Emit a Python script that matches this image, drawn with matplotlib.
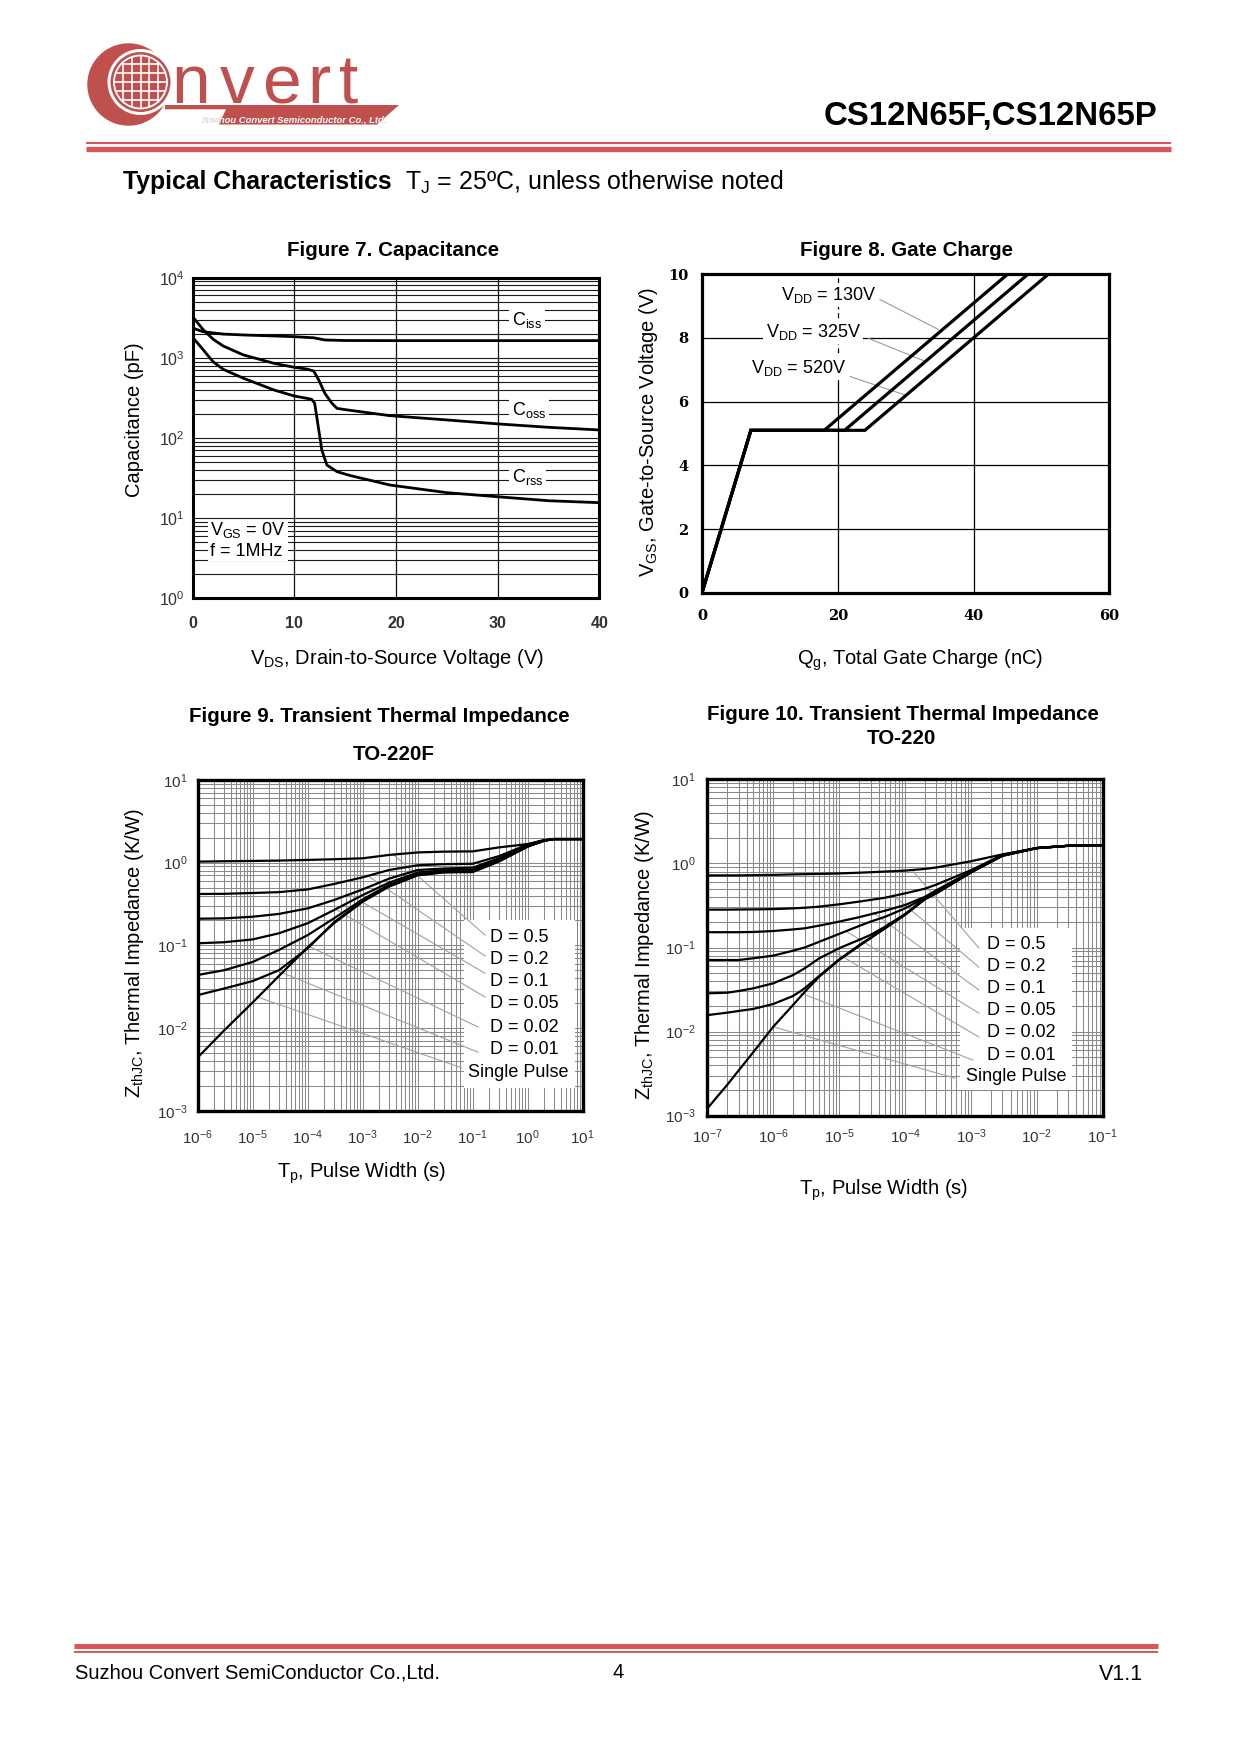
import numpy as np
import matplotlib
matplotlib.use('Agg')
import matplotlib.pyplot as plt
from matplotlib.patches import Circle, Polygon, Rectangle
from matplotlib.ticker import LogLocator, NullFormatter

plt.rcParams['font.family'] = ['Liberation Sans', 'DejaVu Sans']
plt.rcParams['mathtext.fontset'] = 'custom'
plt.rcParams['mathtext.rm'] = 'Liberation Sans'
plt.rcParams['mathtext.it'] = 'Liberation Sans:italic'
plt.rcParams['mathtext.bf'] = 'Liberation Sans:bold'

# ---------------- data ----------------
# Figure 7 capacitance
ciss_v = [0, 1, 3, 5, 8, 10, 11.9, 13.0, 15, 20, 30, 40]
ciss = [2355, 2120, 1980, 1930, 1875, 1836, 1780, 1671, 1645, 1640, 1640, 1640]
coss_v = [0, 1.05, 2.03, 3, 5, 8, 10, 11.2, 11.9, 12.4, 13.0, 13.7, 14.2, 15.2, 19.4, 25, 30, 35, 40]
coss = [3260, 2230, 1700, 1406, 1086, 855, 762, 726, 686, 530, 361, 271, 234, 224, 190, 168, 150, 136, 126]
crss_v = [0, 1.05, 2, 3, 5, 8, 10, 11.2, 11.7, 12.0, 12.4, 12.7, 13.2, 14.2, 15.5, 19.4, 25, 30, 35, 40]
crss = [1800, 1254, 895, 720, 556, 397, 334, 313, 304, 271, 126, 71, 46, 38, 34, 25.9, 20.8, 18.5, 16.5, 15.6]

# Figure 8 gate charge
qg_130 = [0, 7.2, 18, 45]
qg_325 = [0, 7.2, 21, 48]
qg_520 = [0, 7.2, 24, 51]
vgs_pts = [0, 5.1, 5.1, 10]
g8_labels = ['130V', '325V', '520V']
g8_label_x = [18.7, 16.4, 14.3]
g8_label_y = [9.35, 8.2, 7.05]
g8_lead_x0 = [26.2, 24.5, 21.8]
g8_lead_y0 = [9.21, 7.99, 6.79]
g8_lead_x1 = [34.8, 32.6, 29.9]
g8_lead_y1 = [8.27, 7.29, 6.21]

# Figure 9 thermal impedance TO-220F
t9 = [1e-6, 3e-6, 1e-5, 3e-5, 1e-4, 3e-4, 1e-3, 3e-3, 1e-2, 3e-2, 1e-1, 3e-1, 1, 2, 3, 10]
z9_d05 = [1.03, 1.04, 1.05, 1.06, 1.08, 1.10, 1.13, 1.24, 1.33, 1.36, 1.37, 1.53, 1.68, 1.88, 1.93, 1.93]
z9_d02 = [0.418, 0.42, 0.43, 0.44, 0.475, 0.552, 0.665, 0.815, 0.93, 0.96, 0.97, 1.20, 1.66, 1.87, 1.93, 1.93]
z9_d01 = [0.21, 0.212, 0.222, 0.24, 0.28, 0.353, 0.475, 0.64, 0.815, 0.85, 0.87, 1.13, 1.62, 1.86, 1.93, 1.93]
z9_d005 = [0.106, 0.109, 0.118, 0.14, 0.185, 0.267, 0.406, 0.573, 0.76, 0.81, 0.82, 1.08, 1.60, 1.85, 1.93, 1.93]
z9_d002 = [0.0438, 0.050, 0.063, 0.088, 0.133, 0.212, 0.36, 0.54, 0.72, 0.78, 0.79, 1.06, 1.58, 1.85, 1.93, 1.93]
z9_d001 = [0.025, 0.030, 0.037, 0.050, 0.092, 0.19, 0.345, 0.52, 0.71, 0.77, 0.78, 1.05, 1.58, 1.84, 1.93, 1.93]
z9_sp = [0.0044, 0.0093, 0.0204, 0.0426, 0.0946, 0.185, 0.337, 0.513, 0.703, 0.762, 0.77, 1.03, 1.56, 1.84, 1.93, 1.93]

# Figure 10 thermal impedance TO-220
t10 = [1e-7, 2e-7, 3e-7, 5e-7, 1e-6, 2e-6, 3e-6, 5e-6, 1e-5, 2e-5, 3e-5, 5e-5,
       1e-4, 2e-4, 3e-4, 1e-3, 3e-3, 1e-2, 3e-2, 1e-1]
z10_d05 = [0.72, 0.72, 0.72, 0.725, 0.73, 0.74, 0.745, 0.75, 0.76, 0.775, 0.785, 0.80,
           0.82, 0.86, 0.895, 1.06, 1.28, 1.52, 1.62, 1.65]
z10_d02 = [0.282, 0.282, 0.283, 0.284, 0.286, 0.292, 0.297, 0.306, 0.326, 0.351, 0.368, 0.391,
           0.44, 0.50, 0.56, 0.83, 1.26, 1.53, 1.62, 1.65]
z10_d01 = [0.152, 0.152, 0.152, 0.153, 0.157, 0.164, 0.169, 0.182, 0.203, 0.229, 0.248, 0.274,
           0.32, 0.40, 0.48, 0.80, 1.25, 1.52, 1.62, 1.65]
z10_d005 = [0.071, 0.071, 0.071, 0.0745, 0.080, 0.0917, 0.100, 0.117, 0.145, 0.180, 0.203, 0.232,
            0.292, 0.385, 0.46, 0.79, 1.24, 1.52, 1.62, 1.65]
z10_d002 = [0.0285, 0.029, 0.0304, 0.0327, 0.0375, 0.047, 0.0565, 0.0744, 0.098, 0.123, 0.141, 0.177,
            0.25, 0.378, 0.45, 0.785, 1.24, 1.52, 1.62, 1.65]
z10_d001 = [0.0157, 0.0168, 0.0176, 0.0186, 0.0213, 0.0265, 0.0327, 0.046, 0.072, 0.106, 0.131, 0.171,
            0.246, 0.376, 0.445, 0.78, 1.23, 1.52, 1.62, 1.65]
z10_sp = [0.00122, 0.00232, 0.00346, 0.00571, 0.0114, 0.0207, 0.0296, 0.045, 0.071, 0.104, 0.129, 0.169,
          0.244, 0.374, 0.44, 0.78, 1.23, 1.52, 1.62, 1.65]

d_labels = ['D = 0.5', 'D = 0.2', 'D = 0.1', 'D = 0.05', 'D = 0.02', 'D = 0.01', 'Single Pulse']

lead9_x0 = [3.6e-3, 1.18e-3, 5.9e-4, 3.4e-4, 1.1e-4, 3.1e-5, 1.18e-5]
lead9_y0 = [1.26, 0.71, 0.406, 0.267, 0.096, 0.048, 0.0239]
lead9_x1 = [0.168, 0.168, 0.168, 0.168, 0.125, 0.125, 0.063]
lead9_y1 = [0.133, 0.0743, 0.046, 0.0237, 0.0103, 0.0051, 0.0033]

lead10_x0 = [1.34e-4, 6.6e-5, 3.3e-5, 1.3e-5, 8.2e-6, 2.27e-6, 1e-6]
lead10_y0 = [0.80, 0.42, 0.26, 0.155, 0.09, 0.03, 0.0114]
lead10_x1 = [1.32e-3, 1.32e-3, 1.32e-3, 1.32e-3, 1.32e-3, 1.07e-3, 5.7e-4]
lead10_y1 = [0.0986, 0.0586, 0.0313, 0.0166, 0.00863, 0.00459, 0.0028]

# ---------------- figure ----------------
W, H = 1240, 1754
fig = plt.figure(figsize=(W / 100, H / 100), dpi=100)

bg = fig.add_axes([0, 0, 1, 1])
bg.set_xlim(0, W)
bg.set_ylim(H, 0)
bg.axis('off')


def axes_px(l, t, r, b):
    return fig.add_axes([l / W, 1 - b / H, (r - l) / W, (b - t) / H])


RED = '#D9575B'
LOGO = '#C0504D'
TICKC = '#333333'

# ---- header / logo ----
bg.add_patch(Circle((128.5, 84.5), 41.2, color=LOGO, lw=0))
bg.add_patch(Circle((140.5, 82), 33, color='white', lw=0))
bg.add_patch(Circle((140.5, 82), 30, color=LOGO, lw=0))
bg.add_patch(Circle((140.5, 82), 26.5, fc='none', ec='white', lw=1.3))
clipc = Circle((140.5, 82), 26.5, transform=bg.transData)
for gx in np.arange(140.5 - 4 * 8.7, 140.5 + 4.5 * 8.7, 8.7):
    ln, = bg.plot([gx, gx], [40, 125], color='white', lw=1.2)
    ln.set_clip_path(clipc)
for gy in np.arange(82 - 4 * 9, 82 + 4.5 * 9, 9):
    ln, = bg.plot([95, 190], [gy, gy], color='white', lw=1.2)
    ln.set_clip_path(clipc)

for ch, xx in zip('nvert', [171, 220, 263, 307, 339]):
    bg.text(xx, 103, ch, fontsize=50, color=LOGO, ha='left', va='baseline')

bar = Polygon([(165, 105), (399, 105), (377, 124.5), (219, 124.5), (226, 109.3), (165, 109.3)],
              closed=True, color=LOGO, lw=0)
bg.add_patch(bar)
sub_txt = 'Suzhou Convert Semiconductor Co., Ltd.'
bg.text(202, 119.5, sub_txt, fontsize=6.8, fontweight='bold', fontstyle='italic', color=LOGO,
        ha='left', va='center')
tw = bg.text(202, 119.5, sub_txt, fontsize=6.8, fontweight='bold', fontstyle='italic', color='white',
             ha='left', va='center')
tw.set_clip_path(bar)

bg.text(1157, 117, 'CS12N65F,CS12N65P', fontsize=23.8, fontweight='bold', ha='right', va='center')
bg.plot([86, 1171], [142.7, 142.7], color=RED, lw=1.5, solid_capstyle='butt')
bg.plot([86, 1171], [148.7, 148.7], color=RED, lw=3.8, solid_capstyle='butt')

bg.text(123, 182, 'Typical Characteristics', fontsize=17.8, fontweight='bold', ha='left', va='center')
bg.text(405, 182, r'T$_{\mathregular{J}}$ = 25ºC, unless otherwise noted', fontsize=18, ha='left', va='center')

# ---- footer ----
bg.plot([74, 1158], [1646, 1646], color=RED, lw=3.6, solid_capstyle='butt')
bg.plot([74, 1158], [1652, 1652], color=RED, lw=1.4, solid_capstyle='butt')
bg.text(75, 1673, 'Suzhou Convert SemiConductor Co.,Ltd.', fontsize=14.5, ha='left', va='center')
bg.text(618, 1673, '4', fontsize=14.5, ha='center', va='center')
bg.text(1143, 1674, 'V1.1', fontsize=15.5, ha='right', va='center')

# ---- titles and axis labels ----
TS = 14.8
LS = 14.5
bg.text(393, 250, 'Figure 7. Capacitance', fontsize=TS, fontweight='bold', ha='center', va='center')
bg.text(907, 250, 'Figure 8. Gate Charge', fontsize=TS, fontweight='bold', ha='center', va='center')
bg.text(379, 717, 'Figure 9. Transient Thermal Impedance', fontsize=TS, fontweight='bold', ha='center', va='center')
bg.text(394, 755, 'TO-220F', fontsize=TS, fontweight='bold', ha='center', va='center')
bg.text(903, 715, 'Figure 10. Transient Thermal Impedance', fontsize=TS, fontweight='bold', ha='center', va='center')
bg.text(901, 739, 'TO-220', fontsize=TS, fontweight='bold', ha='center', va='center')

bg.text(135, 420, 'Capacitance (pF)', fontsize=LS, rotation=90, ha='center', va='center')
bg.text(397, 659, r'V$_{\mathregular{DS}}$, Drain-to-Source Voltage (V)', fontsize=LS, ha='center', va='center')
bg.text(648, 432, r'V$_{\mathregular{GS}}$, Gate-to-Source Voltage (V)', fontsize=LS, rotation=90, ha='center', va='center')
bg.text(920, 660, r'Q$_{\mathregular{g}}$, Total Gate Charge (nC)', fontsize=LS, ha='center', va='center')
bg.text(135, 953, r'Z$_{\mathregular{thJC}}$, Thermal Impedance (K/W)', fontsize=LS, rotation=90, ha='center', va='center')
bg.text(362, 1173, r'T$_{\mathregular{p}}$, Pulse Width (s)', fontsize=LS, ha='center', va='center')
bg.text(644, 955, r'Z$_{\mathregular{thJC}}$, Thermal Impedance (K/W)', fontsize=LS, rotation=90, ha='center', va='center')
bg.text(884, 1190, r'T$_{\mathregular{p}}$, Pulse Width (s)', fontsize=LS, ha='center', va='center')


def pow_label(e):
    return r'$\mathregular{10^{%d}}$' % e


# ---------------- Figure 7 ----------------
ax7 = axes_px(192.7, 277.7, 599.3, 598.3)
ax7.set_yscale('log')
ax7.set_xlim(0, 40)
ax7.set_ylim(1, 1e4)
ax7.yaxis.set_major_locator(LogLocator(base=10, numticks=20))
ax7.yaxis.set_minor_locator(LogLocator(base=10, subs=np.arange(2, 10) * 1.0, numticks=20))
ax7.yaxis.set_minor_formatter(NullFormatter())
ax7.set_yticks([1, 10, 100, 1000, 10000])
ax7.set_yticklabels([pow_label(e) for e in range(0, 5)])
ax7.set_xticks([0, 10, 20, 30, 40])
ax7.set_xticklabels(['0', '10', '20', '30', '40'], fontweight='bold')
ax7.tick_params(axis='y', which='both', length=0, pad=6.0, labelsize=11.5, labelcolor=TICKC)
ax7.tick_params(axis='x', which='both', length=0, pad=12.5, labelsize=11.5, labelcolor=TICKC)
ax7.grid(axis='y', which='both', color='#1a1a1a', lw=0.8)
ax7.grid(axis='x', which='major', color='#111111', lw=0.9)
for s in ax7.spines.values():
    s.set_linewidth(2.2)
ax7.plot(ciss_v, ciss, color='k', lw=2.0, zorder=3)
ax7.plot(coss_v, coss, color='k', lw=2.0, zorder=3)
ax7.plot(crss_v, crss, color='k', lw=2.0, zorder=3)
bb = dict(fc='white', ec='none', pad=2.0)
ax7.text(31.4, 2965, r'C$_{\mathregular{iss}}$', fontsize=13, ha='left', va='center', bbox=bb, zorder=4)
ax7.text(31.4, 224, r'C$_{\mathregular{oss}}$', fontsize=13, ha='left', va='center', bbox=bb, zorder=4)
ax7.text(31.4, 33, r'C$_{\mathregular{rss}}$', fontsize=13, ha='left', va='center', bbox=bb, zorder=4)
ax7.add_patch(Rectangle((1.55, 2.9), 7.85, 6.6, fc='white', ec='none', zorder=2))
ax7.text(1.7, 7.1, r'V$_{\mathregular{GS}}$ = 0V', fontsize=13, ha='left', va='center', zorder=4)
ax7.text(1.7, 3.85, 'f = 1MHz', fontsize=13, ha='left', va='center', zorder=4)

# ---------------- Figure 8 ----------------
ax8 = axes_px(702, 274.3, 1109.3, 592.7)
ax8.set_xlim(0, 60)
ax8.set_ylim(0, 10)
ax8.set_xticks([0, 20, 40, 60])
ax8.set_yticks([0, 2, 4, 6, 8, 10])
serif = dict(fontfamily='DejaVu Serif', fontweight='bold', fontsize=10.5)
ax8.set_xticklabels(['0', '20', '40', '60'], **serif)
ax8.set_yticklabels(['0', '2', '4', '6', '8', '10'], **serif)
ax8.tick_params(axis='x', length=0, pad=11.5)
ax8.tick_params(axis='y', length=0, pad=10.0)
for yv in [2, 4, 6, 8]:
    ax8.axhline(yv, color='k', lw=0.9, zorder=1.5)
ax8.axvline(40, color='k', lw=0.9, zorder=1.5)
ax8.axvline(20, ymin=0, ymax=0.67, color='k', lw=0.9, zorder=1.5)
ax8.axvline(20, ymin=0.67, ymax=1, color='k', lw=0.9, ls=(0, (4, 3)), zorder=1.5)
for s in ax8.spines.values():
    s.set_linewidth(2.3)
for q in [qg_130, qg_325, qg_520]:
    ax8.plot(q, vgs_pts, color='k', lw=2.3, zorder=3, solid_joinstyle='miter')
for i in range(3):
    ax8.plot([g8_lead_x0[i], g8_lead_x1[i]], [g8_lead_y0[i], g8_lead_y1[i]], color='#9a9a9a', lw=0.8, zorder=2)
    ax8.text(g8_label_x[i], g8_label_y[i], r'V$_{\mathregular{DD}}$ = ' + g8_labels[i], fontsize=13,
             ha='center', va='center', bbox=dict(fc='white', ec='none', pad=1.5), zorder=4)


# ---------------- Figures 9 & 10 ----------------
def thermal(ax, t, curves, xdec, box, lab_x, sp_x, lab_y, lx0, ly0, lx1, ly1, xpad, ypad):
    ax.set_xscale('log')
    ax.set_yscale('log')
    ax.set_xlim(10.0 ** xdec[0], 10.0 ** xdec[1])
    ax.set_ylim(1e-3, 10)
    for a in (ax.xaxis, ax.yaxis):
        a.set_major_locator(LogLocator(base=10, numticks=30))
        a.set_minor_locator(LogLocator(base=10, subs=np.arange(2, 10) * 1.0, numticks=30))
        a.set_minor_formatter(NullFormatter())
    xt = list(range(xdec[0], xdec[1] + 1))
    ax.set_xticks([10.0 ** e for e in xt])
    ax.set_xticklabels([pow_label(e) for e in xt])
    ax.set_yticks([10.0 ** e for e in range(-3, 2)])
    ax.set_yticklabels([pow_label(e) for e in range(-3, 2)])
    ax.tick_params(which='both', length=0, labelsize=11, labelcolor=TICKC)
    ax.tick_params(axis='x', pad=xpad)
    ax.tick_params(axis='y', pad=ypad)
    ax.grid(which='both', color='#8a8a8a', lw=0.75)
    for s in ax.spines.values():
        s.set_linewidth(2.4)
    ax.add_patch(Rectangle((box[0], box[1]), box[2] - box[0], box[3] - box[1], transform=ax.transAxes,
                           fc='white', ec='none', zorder=2))
    for z in curves:
        ax.plot(t, z, color='k', lw=1.6, zorder=3)
    for i in range(7):
        ax.plot([lx0[i], lx1[i]], [ly0[i], ly1[i]], color='#a0a0a0', lw=0.8, zorder=2.5)
        x = sp_x if i == 6 else lab_x
        ax.text(x, lab_y[i], d_labels[i], transform=ax.transAxes, fontsize=13, ha='left', va='center', zorder=4)


ax9 = axes_px(197.7, 780, 582.7, 1110.7)
thermal(ax9, t9, [z9_d05, z9_d02, z9_d01, z9_d005, z9_d002, z9_d001, z9_sp], (-6, 1),
        (0.692, 0.0675, 0.980, 0.577), 0.758, 0.703,
        [0.524, 0.458, 0.391, 0.323, 0.252, 0.186, 0.115],
        lead9_x0, lead9_y0, lead9_x1, lead9_y1, 12.5, 7.5)

ax10 = axes_px(707.3, 779.3, 1102.7, 1115.7)
thermal(ax10, t10, [z10_d05, z10_d02, z10_d01, z10_d005, z10_d002, z10_d001, z10_sp], (-7, -1),
        (0.639, 0.076, 0.922, 0.557), 0.707, 0.654,
        [0.510, 0.443, 0.379, 0.312, 0.247, 0.180, 0.116],
        lead10_x0, lead10_y0, lead10_x1, lead10_y1, 8.5, 8.3)

fig.savefig('out.png', dpi=100)
